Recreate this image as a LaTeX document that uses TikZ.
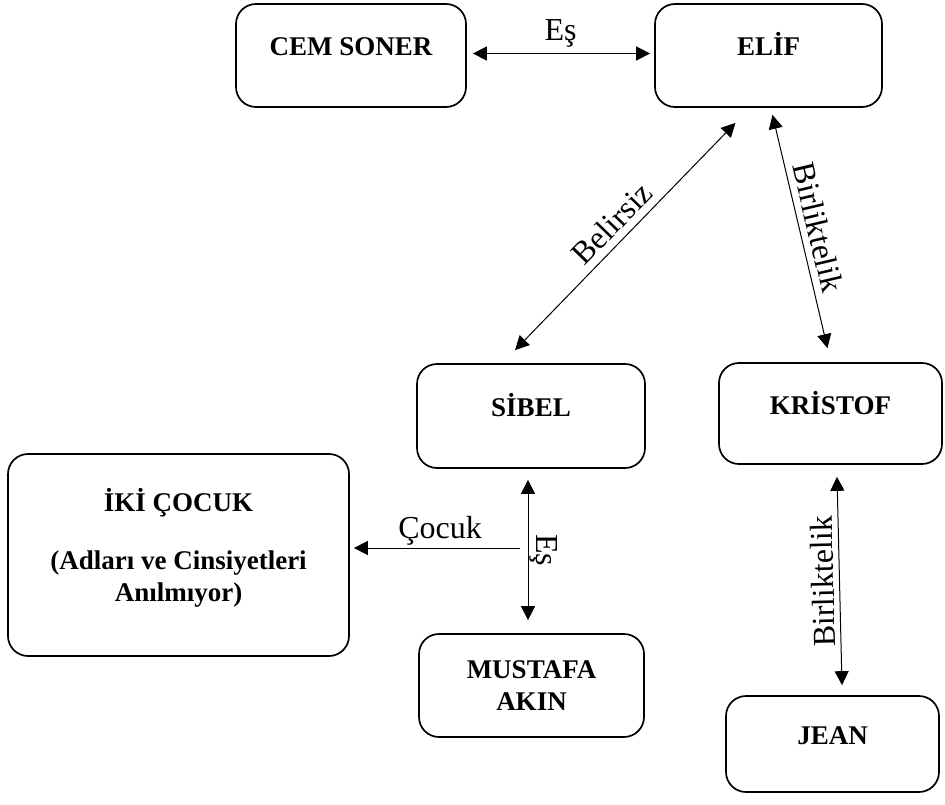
\documentclass[tikz,border=0pt]{standalone}
\usepackage{fontspec}
\setmainfont{Liberation Serif}
\usetikzlibrary{arrows.meta}
\tikzset{>={Triangle[length=14pt,width=14pt]}}
\tikzset{
  kisi/.style={draw, line width=1.7pt, rounded corners=20pt, align=center,
    font=\bfseries\fontsize{27}{32}\selectfont},
  tekli/.style={text height=18pt, text depth=17pt},
  iliski/.style={<->, line width=1pt},
  etiket/.style={font=\fontsize{32}{36}\selectfont, inner sep=2pt}
}

\begin{document}
\begin{tikzpicture}[x=1pt, y=-1pt]
    \useasboundingbox(0, 0)rectangle(945, 805);
    % kisiler
    \node[kisi, tekli, minimum width=230pt, minimum height=103pt](cem) at(351, 55.5){CEM SONER};
    \node[kisi, tekli, minimum width=227pt, minimum height=103pt](elif) at(768.5, 55.5){ELİF};
    \node[kisi, tekli, minimum width=228pt, minimum height=104pt](sibel) at(531, 416){SİBEL};
    \node[kisi, tekli, minimum width=223pt, minimum height=101pt](kristof) at(830.5, 413.5){KRİSTOF};
    \node[kisi, text depth=20pt, minimum width=341pt, minimum height=202pt](cocuk) at(178.5, 555)
        {İKİ ÇOCUK\\[26pt](Adları ve Cinsiyetleri\\Anılmıyor)};
    \node[kisi, minimum width=225pt, minimum height=103pt](mustafa) at(531.5, 685.5){MUSTAFA\\AKIN};
    \node[kisi, tekli, minimum width=213pt, minimum height=96pt](jean) at(832.5, 744){JEAN};
    % iliskiler
    \draw[iliski, shorten <=6pt, shorten >=4pt]([yshift=2pt]cem.east)--([yshift=2pt]elif.west)
        node[etiket, midway, above=4pt]{Eş};
    \draw[iliski]([xshift=-16pt, yshift=13pt]sibel.north)--([xshift=-33pt, yshift=-15pt]elif.south)
        node[etiket, midway, sloped, above=5pt]{Belirsiz};
    \draw[iliski]([xshift=4pt, yshift=-7pt]elif.south)--([xshift=-3pt, yshift=14pt]kristof.north)
        node[etiket, midway, sloped, above=5pt]{Birliktelik};
    \draw[iliski]([xshift=-3pt, yshift=-11pt]sibel.south)--([xshift=-3.5pt, yshift=13pt]mustafa.north)
        node[etiket, midway, anchor=south, rotate=-90, inner sep=1pt]{Eş};
    \coordinate(cocukbas) at(520, 548);
    \draw[->, line width=1pt, shorten >=4pt](cocukbas)--(cocukbas -| cocuk.east)
        node[etiket, pos=.47, above]{Çocuk};
    \draw[iliski]([xshift=9.5pt, yshift=10pt]jean.north)--([xshift=6.5pt, yshift=-12pt]kristof.south)
        node[etiket, midway, sloped, allow upside down, above=3pt]{Birliktelik};
\end{tikzpicture}
\end{document}
